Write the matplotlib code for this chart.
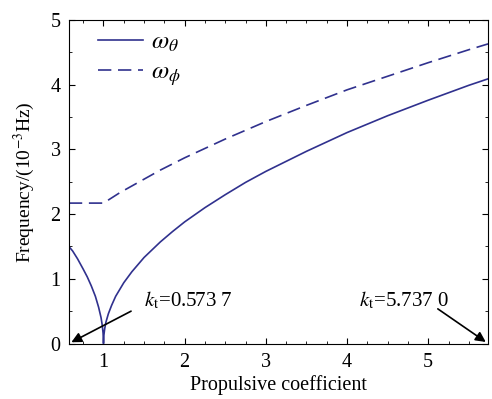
import matplotlib
matplotlib.use("Agg")
import matplotlib.pyplot as plt
from matplotlib.ticker import MultipleLocator

plt.rcParams['font.family'] = ['Liberation Serif', 'DejaVu Serif']
plt.rcParams['mathtext.fontset'] = 'stix'

k = [0.5737, 0.62, 0.68, 0.75, 0.80, 0.85, 0.90, 0.94, 0.97, 0.985, 0.995, 1.0,
     1.005, 1.015, 1.03, 1.06, 1.10, 1.15, 1.25, 1.35, 1.5, 1.7, 1.85, 2.0, 2.25,
     2.5, 2.75, 3.0, 3.5, 4.0, 4.5, 5.0, 5.5, 5.737]
omega_theta = [1.50, 1.43, 1.31, 1.15, 1.03, 0.89, 0.73, 0.56, 0.40, 0.28, 0.16, 0.0,
               0.13, 0.23, 0.33, 0.46, 0.59, 0.73, 0.94, 1.11, 1.33, 1.57, 1.73, 1.88, 2.10,
               2.30, 2.49, 2.66, 2.97, 3.26, 3.52, 3.76, 3.99, 4.09]
k_phi = [0.5737, 1.0, 1.1, 1.2, 1.4, 1.7, 2.0, 2.5, 3.0, 3.5, 4.0, 4.5, 5.0, 5.5, 5.737]
omega_phi = [2.17, 2.17, 2.25, 2.33, 2.47, 2.68, 2.87, 3.16, 3.43, 3.68, 3.92, 4.13, 4.34, 4.54, 4.63]

color = '#30318E'

fig = plt.figure(figsize=(4.92, 3.99), dpi=100)
ax = fig.add_axes([0.140, 0.139, 0.852, 0.811])
ax.plot(k, omega_theta, color=color, lw=1.2, label=r'$\omega_\theta$')
ax.plot(k_phi, omega_phi, color=color, lw=1.2, dashes=(8, 4), label=r'$\omega_\phi$')

ax.set_xlim(0.5737, 5.737)
ax.set_ylim(0, 5)
ax.xaxis.set_major_locator(MultipleLocator(1))
ax.xaxis.set_minor_locator(MultipleLocator(0.25))
ax.yaxis.set_major_locator(MultipleLocator(1))
ax.yaxis.set_minor_locator(MultipleLocator(0.5))
ax.tick_params(which='both', direction='in', top=True, right=True, labelsize=14.5)
ax.tick_params(which='major', length=4, pad=6)
ax.tick_params(axis='x', which='major', pad=7)
ax.tick_params(which='minor', length=2.5)
ax.set_xlabel('Propulsive coefficient', fontsize=14.5, labelpad=2)
ax.set_ylabel(r'Frequency/(10$^{-3}$Hz)', fontsize=14, labelpad=10)

leg = ax.legend(loc='upper left', frameon=False, fontsize=18, handlelength=1.8,
                handletextpad=0.35, labelspacing=0.3, bbox_to_anchor=(0.015, 1.035))

ax.annotate('', xy=(0.5737, 0.0), xytext=(1.37, 0.52),
            arrowprops=dict(arrowstyle='-|>', color='black', lw=1.2, mutation_scale=15))
ax.text(1.50, 0.58, r'$k_\mathrm{t}$=0.573 7', fontsize=15, ha='left', va='baseline')
ax.annotate('', xy=(5.737, 0.0), xytext=(5.09, 0.56),
            arrowprops=dict(arrowstyle='-|>', color='black', lw=1.2, mutation_scale=15))
ax.text(4.15, 0.58, r'$k_\mathrm{t}$=5.737 0', fontsize=15, ha='left', va='baseline')

fig.savefig('out.png', dpi=100)
